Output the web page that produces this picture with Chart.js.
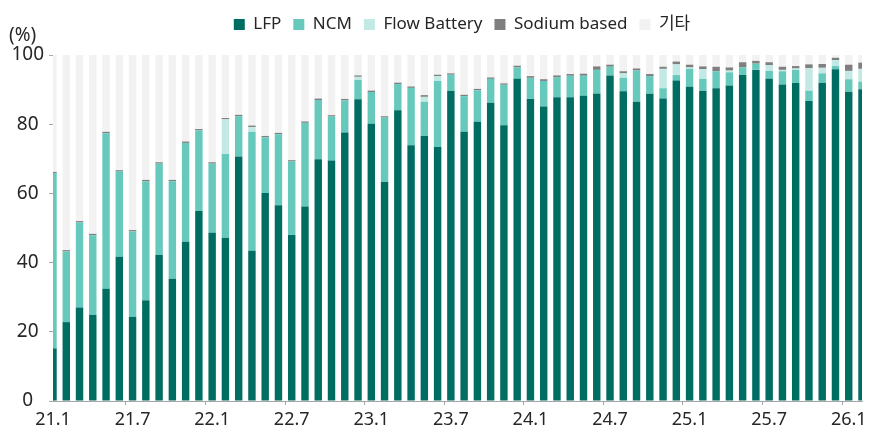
<!DOCTYPE html>
<html>
<head>
<meta charset="utf-8">
<script src="https://cdn.jsdelivr.net/npm/chart.js@4/dist/chart.umd.min.js"></script>
<style>
  html, body { margin: 0; padding: 0; background: #fff; }
  #wrap { width: 872px; height: 432px; position: relative; }
</style>
</head>
<body>
<div id="wrap"><canvas id="chart"></canvas></div>
<script>
// 월별 ESS 배터리 유형 비중 (%)
const months = [
  '21.1','21.2','21.3','21.4','21.5','21.6','21.7','21.8','21.9','21.10','21.11','21.12',
  '22.1','22.2','22.3','22.4','22.5','22.6','22.7','22.8','22.9','22.10','22.11','22.12',
  '23.1','23.2','23.3','23.4','23.5','23.6','23.7','23.8','23.9','23.10','23.11','23.12',
  '24.1','24.2','24.3','24.4','24.5','24.6','24.7','24.8','24.9','24.10','24.11','24.12',
  '25.1','25.2','25.3','25.4','25.5','25.6','25.7','25.8','25.9','25.10','25.11','25.12',
  '26.1','26.2'
];

const lfp = [
  15.2, 22.8, 27.0, 24.9, 32.4, 41.7, 24.3, 29.1, 42.3, 35.3, 46.0, 54.9,
  48.6, 47.2, 70.7, 43.4, 60.1, 56.6, 48.0, 56.2, 69.9, 69.5, 77.6, 87.2,
  80.1, 63.4, 84.0, 73.9, 76.6, 73.4, 89.7, 77.8, 80.7, 86.2, 79.7, 93.1,
  87.3, 85.1, 87.8, 87.8, 88.2, 88.9, 94.1, 89.5, 86.5, 88.8, 87.4, 92.6,
  90.8, 89.7, 90.4, 91.2, 94.2, 95.7, 93.1, 91.5, 91.9, 86.7, 92.0, 95.9,
  89.4, 90.1
];
const ncm = [
  50.6, 20.4, 24.6, 23.0, 45.0, 24.6, 24.7, 34.4, 26.3, 28.2, 28.6, 23.3,
  20.0, 24.2, 11.6, 34.4, 16.1, 20.5, 21.2, 24.2, 17.1, 12.7, 9.3, 5.6,
  9.2, 18.5, 7.6, 16.6, 9.9, 19.1, 4.6, 10.3, 9.1, 6.9, 11.7, 3.3,
  6.1, 7.4, 5.8, 6.2, 5.8, 6.8, 2.5, 3.9, 9.0, 5.1, 3.0, 1.6,
  5.2, 3.4, 4.9, 3.8, 2.2, 1.8, 2.3, 3.8, 3.8, 3.0, 2.7, 0.9,
  3.6, 2.2
];
const flow = [
  0, 0, 0, 0, 0, 0, 0, 0, 0, 0, 0, 0,
  0, 10.0, 0, 1.4, 0, 0, 0, 0, 0, 0, 0, 0.9,
  0, 0, 0, 0, 1.4, 1.4, 0, 0, 0, 0, 0, 0,
  0, 0, 0, 0, 0, 0, 0, 1.3, 0, 0, 5.6, 3.1,
  0.4, 2.8, 0, 0.5, 0, 0, 1.7, 0.4, 0.4, 6.5, 1.6, 1.7,
  2.4, 3.7
];
const sodium = [
  0.4, 0.4, 0.4, 0.4, 0.4, 0.4, 0.4, 0.4, 0.4, 0.4, 0.4, 0.4,
  0.4, 0.4, 0.4, 0.4, 0.4, 0.4, 0.4, 0.4, 0.4, 0.4, 0.4, 0.4,
  0.4, 0.4, 0.4, 0.4, 0.5, 0.4, 0.4, 0.4, 0.4, 0.4, 0.4, 0.5,
  0.5, 0.5, 0.5, 0.5, 0.6, 1.0, 0.6, 0.6, 0.6, 0.6, 0.6, 0.8,
  0.8, 0.8, 1.3, 0.9, 1.5, 0.8, 0.8, 0.9, 0.7, 1.1, 1.1, 0.7,
  1.8, 1.8
];
const others = [
  33.8, 56.4, 48.0, 51.7, 22.2, 33.3, 50.6, 36.1, 31.0, 36.1, 25.0, 21.4,
  31.0, 18.2, 17.3, 20.4, 23.4, 22.5, 30.4, 19.2, 12.6, 17.4, 12.7, 5.9,
  10.3, 17.7, 8.0, 9.1, 11.6, 5.7, 5.3, 11.5, 9.8, 6.5, 8.2, 3.1,
  6.1, 7.0, 5.9, 5.5, 5.4, 3.3, 2.8, 4.7, 3.9, 5.5, 3.4, 1.9,
  2.8, 3.3, 3.4, 3.6, 2.1, 1.7, 2.1, 3.4, 3.2, 2.7, 2.6, 0.8,
  2.8, 2.2
];
const yTicks = [0, 20, 40, 60, 80, 100];

const axisColor = '#a6a6a6';
const textColor = '#262626';
const fontFamily = '"Noto Sans", "Noto Sans CJK KR", sans-serif';

// (%) 단위 표시
const unitLabel = {
  id: 'unitLabel',
  afterDraw(chart) {
    const ctx = chart.ctx;
    ctx.save();
    ctx.font = '19px ' + fontFamily;
    ctx.fillStyle = textColor;
    ctx.textAlign = 'left';
    ctx.textBaseline = 'middle';
    ctx.fillText('(%)', 9, 36);
    ctx.restore();
  }
};

// 범례 위치 조정 (오른쪽, 위로)
const legendShift = {
  id: 'legendShift',
  afterLayout(chart) {
    const lg = chart.legend;
    if (lg) {
      lg.left += 31; lg.right += 31;
      lg.top -= 12; lg.bottom -= 12;
    }
  }
};

function ds(label, data, color) {
  return {
    label: label,
    data: data,
    backgroundColor: color,
    borderWidth: 0,
    categoryPercentage: 1,
    barPercentage: 0.56,
    clip: 0
  };
}

new Chart(document.getElementById('chart'), {
  type: 'bar',
  data: {
    labels: months,
    datasets: [
      ds('LFP', lfp, '#006d62'),
      ds('NCM', ncm, '#66c9bb'),
      ds('Flow Battery', flow, '#c2e9e4'),
      ds('Sodium based', sodium, '#7f7f7f'),
      ds('기타', others, '#f2f2f2')
    ]
  },
  options: {
    responsive: true,
    maintainAspectRatio: false,
    animation: false,
    layout: { padding: { left: 0, right: 10, top: 16, bottom: 0 } },
    plugins: {
      legend: {
        position: 'top',
        labels: {
          boxWidth: 11,
          boxHeight: 11,
          padding: 12,
          color: textColor,
          font: { family: fontFamily, size: 17 }
        }
      },
      tooltip: { enabled: false }
    },
    scales: {
      x: {
        stacked: true,
        offset: false,
        grid: {
          drawOnChartArea: false,
          drawTicks: true,
          tickLength: 4,
          color: (c) => (c.index % 6 === 0 ? axisColor : 'rgba(0,0,0,0)')
        },
        border: { display: true, color: axisColor, width: 1 },
        ticks: {
          autoSkip: false,
          maxRotation: 0,
          padding: 4,
          color: textColor,
          font: { family: fontFamily, size: 18 },
          callback: function (v, i) { return i % 6 === 0 ? months[i] : ''; }
        },
        afterFit: (s) => { s.height = 31; }
      },
      y: {
        stacked: true,
        min: 0,
        max: 100,
        afterBuildTicks: (s) => { s.ticks = yTicks.map((v) => ({ value: v })); },
        grid: { drawOnChartArea: false, drawTicks: true, tickLength: 4, color: axisColor },
        border: { display: true, color: axisColor, width: 1 },
        ticks: {
          padding: 5,
          crossAlign: 'center',
          color: textColor,
          font: { family: fontFamily, size: 19 }
        },
        afterFit: (s) => { s.width = 53; }
      }
    }
  },
  plugins: [unitLabel, legendShift]
});
</script>
</body>
</html>
